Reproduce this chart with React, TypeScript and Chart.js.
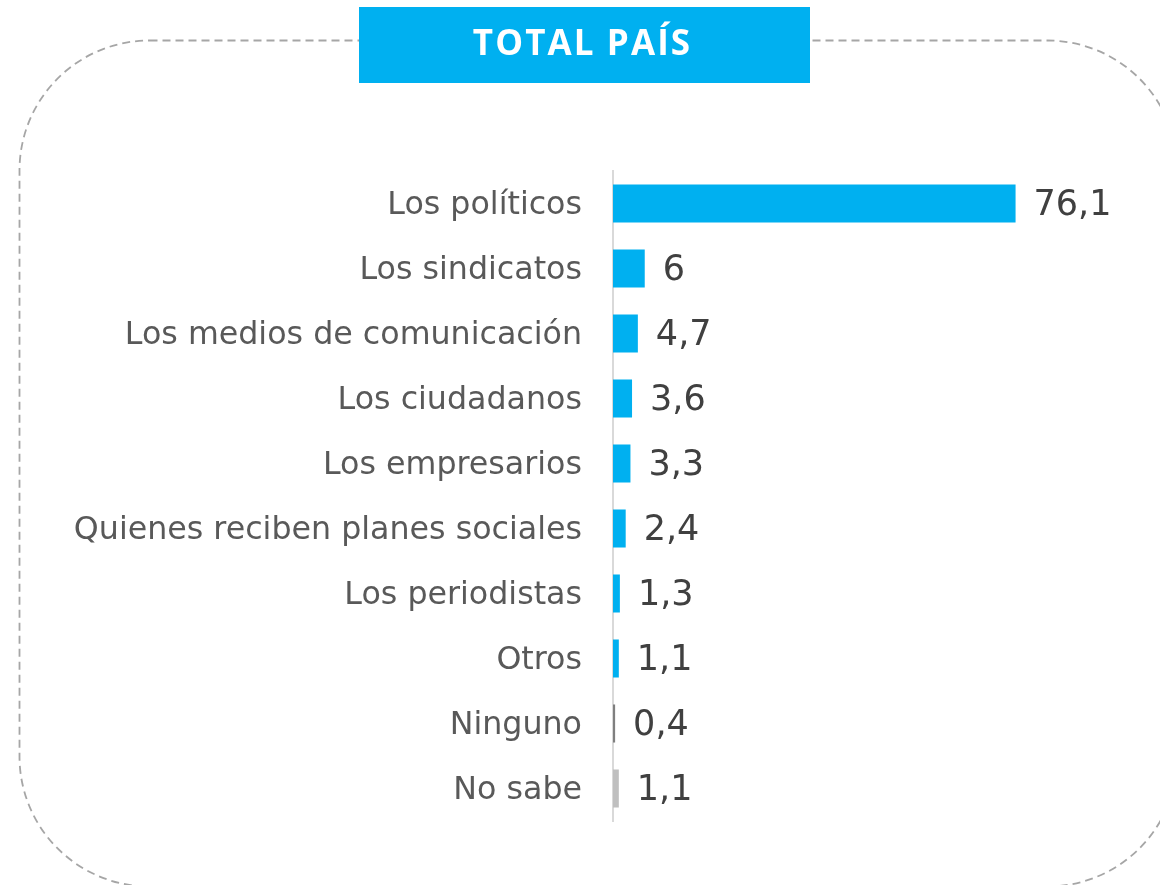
import React, { useEffect, useRef } from "react";
import { Chart, registerables } from "chart.js";

Chart.register(...registerables);

const categories = [
  "Los políticos",
  "Los sindicatos",
  "Los medios de comunicación",
  "Los ciudadanos",
  "Los empresarios",
  "Quienes reciben planes sociales",
  "Los periodistas",
  "Otros",
  "Ninguno",
  "No sabe",
];
const values = [76.1, 6, 4.7, 3.6, 3.3, 2.4, 1.3, 1.1, 0.4, 1.1];
const barColors = [
  "#00B0F0", "#00B0F0", "#00B0F0", "#00B0F0", "#00B0F0",
  "#00B0F0", "#00B0F0", "#00B0F0", "#7F7F7F", "#BFBFBF",
];
const title = "TOTAL PAÍS";

const FONT = "'DejaVu Sans', sans-serif";

const fmt = (v: number) => String(v).replace(".", ",");

const framePlugin = {
  id: "frame",
  beforeDraw(chart: any) {
    const ctx = chart.ctx;
    ctx.save();
    const x = 19.5, y = 40.5, w = 1158, h = 846, r = 130;
    ctx.beginPath();
    ctx.moveTo(x + r, y);
    ctx.lineTo(x + w - r, y);
    ctx.arcTo(x + w, y, x + w, y + r, r);
    ctx.lineTo(x + w, y + h - r);
    ctx.arcTo(x + w, y + h, x + w - r, y + h, r);
    ctx.lineTo(x + r, y + h);
    ctx.arcTo(x, y + h, x, y + h - r, r);
    ctx.lineTo(x, y + r);
    ctx.arcTo(x, y, x + r, y, r);
    ctx.closePath();
    ctx.setLineDash([8, 5]);
    ctx.lineWidth = 1.8;
    ctx.strokeStyle = "#A6A6A6";
    ctx.stroke();
    ctx.setLineDash([]);
    ctx.fillStyle = "#00B0F0";
    ctx.fillRect(359, 7, 451, 76);
    ctx.fillStyle = "#FFFFFF";
    ctx.font = "bold 35px 'Open Sans', sans-serif";
    try { (ctx as any).letterSpacing = "2.1px"; } catch (e) {}
    ctx.textAlign = "center";
    ctx.textBaseline = "middle";
    ctx.fillText(title, 582.5, 45);
    try { (ctx as any).letterSpacing = "0px"; } catch (e) {}
    ctx.restore();
  },
};

const valueLabelPlugin = {
  id: "valueLabels",
  afterDatasetsDraw(chart: any) {
    const ctx = chart.ctx;
    const meta = chart.getDatasetMeta(0);
    ctx.save();
    ctx.font = "35px " + FONT;
    ctx.fillStyle = "#404040";
    ctx.textAlign = "left";
    ctx.textBaseline = "middle";
    meta.data.forEach((bar: any, i: number) => {
      ctx.fillText(fmt(values[i]), bar.x + 18, bar.y + 2);
    });
    ctx.restore();
  },
};

export default function App() {
  const ref = useRef<HTMLCanvasElement | null>(null);
  useEffect(() => {
    if (!ref.current) return;
    const chart = new Chart(ref.current, {
      type: "bar",
      data: {
        labels: categories,
        datasets: [
          {
            data: values,
            backgroundColor: barColors,
            borderWidth: 0,
            categoryPercentage: 1,
            barPercentage: 0.585,
          },
        ],
      },
      options: {
        indexAxis: "y",
        responsive: false,
        animation: false,
        layout: { padding: { top: 171, bottom: 64, left: 0, right: 18 } },
        plugins: { legend: { display: false }, tooltip: { enabled: false } },
        scales: {
          x: { display: false, min: 0, max: 100 },
          y: {
            afterFit(scale: any) {
              scale.width = 613;
            },
            grid: { display: true, drawOnChartArea: false, drawTicks: false },
            border: { display: true, color: "#D9D9D9", width: 2 },
            ticks: {
              padding: 31,
              labelOffset: 2,
              color: "#595959",
              font: { family: FONT, size: 31.7 },
            },
          },
        },
      },
      plugins: [framePlugin, valueLabelPlugin],
    });
    return () => chart.destroy();
  }, []);
  return (
    <div style={{ position: "absolute", left: 0, top: 0, width: 1160, height: 885, background: "#fff" }}>
      <canvas ref={ref} width={1160} height={885} style={{ display: "block" }} />
    </div>
  );
}
